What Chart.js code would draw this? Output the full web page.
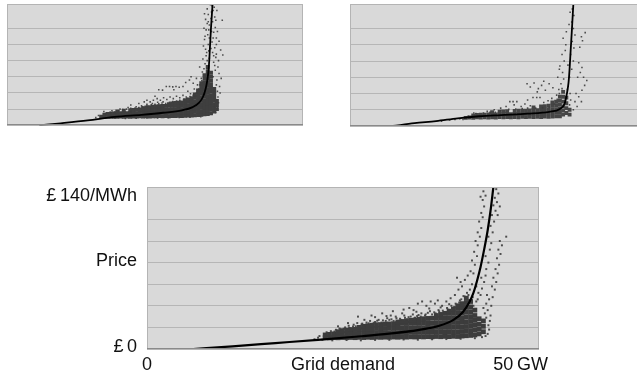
<!DOCTYPE html>
<html>
<head>
<meta charset="utf-8">
<script src="https://cdn.jsdelivr.net/npm/chart.js@4/dist/chart.umd.min.js"></script>
<style>
  html, body { margin: 0; padding: 0; background: #fff; width: 637px; height: 378px; overflow: hidden; }
  .panel { position: absolute; }
  canvas { display: block; }
</style>
</head>
<body>
<div class="panel" style="left:0;top:0;"><canvas id="chartA" width="312" height="130"></canvas></div>
<div class="panel" style="left:343px;top:0;"><canvas id="chartB" width="310" height="130"></canvas></div>
<div class="panel" style="left:0;top:170px;"><canvas id="chartMain" width="637" height="208"></canvas></div>
<script>
// Grid demand (GW) against wholesale price (£/MWh): half-hourly observations
// plus the fitted supply curve, for two earlier periods (small panels) and the main one.

const DEMAND_MAX = 55;   // GW
const PRICE_MAX = 150;   // £/MWh
const PRICE_STEP = 20;

// ---------- panel A (top left) ----------
const curveA = [[6,0],[10,2.5],[15,6],[20,10.5],[25,13],[29,15.5],[32.5,18.5],[34.5,22.5],[35.7,28],[36.4,35],[36.9,45],[37.2,55],[37.5,72],[37.7,95],[37.9,120],[38.2,150]];
const bandA = [
  [17.5,10.5],[18.1,10.3],[18.1,13],[18.7,10.6],[18.7,14],[19.3,10.4],[19.3,14.2],[19.9,10.7],[19.9,14.5],
  [20.5,10.5],[20.5,14.6],[20.5,17],[21.1,10.8],[21.1,14.8],[21.7,10.6],[21.7,14.7],[21.7,18],[22.3,10.9],[22.3,15],
  [22.9,10.7],[22.9,14.9],[22.9,18.5],[23.5,11],[23.5,15.2],[23.5,19],[24.1,10.8],[24.1,15],[24.1,19.2],
  [24.7,11.1],[24.7,15.3],[24.7,19.5],[25.3,10.9],[25.3,15.1],[25.3,19.3],[25.3,21],[25.9,11.2],[25.9,15.4],[25.9,19.6],[25.9,22],
  [26.5,11],[26.5,15.2],[26.5,19.4],[26.5,22.5],[27.1,11.3],[27.1,15.5],[27.1,19.7],[27.1,23],[27.7,11.1],[27.7,15.3],[27.7,19.5],[27.7,23.2],
  [28.3,11.4],[28.3,15.6],[28.3,19.8],[28.3,23.5],[28.9,11.2],[28.9,15.4],[28.9,19.6],[28.9,23.8],[29.5,11.5],[29.5,15.7],[29.5,19.9],[29.5,24],
  [30.1,11.3],[30.1,15.5],[30.1,19.7],[30.1,24],[30.1,26],[30.7,11.6],[30.7,15.8],[30.7,20],[30.7,24.2],[30.7,27],
  [31.3,11.4],[31.3,15.6],[31.3,19.8],[31.3,24],[31.3,27.5],[31.9,11.7],[31.9,16],[31.9,20.2],[31.9,24.4],[31.9,28],
  [32.5,11.5],[32.5,15.8],[32.5,20],[32.5,24.2],[32.5,28.3],[33.1,11.8],[33.1,16],[33.1,20.3],[33.1,24.5],[33.1,28.6],[33.1,31],
  [33.7,12],[33.7,16.2],[33.7,20.5],[33.7,24.8],[33.7,29],[33.7,32],[34.3,12.2],[34.3,16.5],[34.3,20.8],[34.3,25],[34.3,29.2],[34.3,33.5],
  [34.9,12.5],[34.9,16.8],[34.9,21],[34.9,25.3],[34.9,29.6],[34.9,34],[34.9,38],
  [35.5,12.8],[35.5,17],[35.5,21.3],[35.5,25.6],[35.5,30],[35.5,34.4],[35.5,38.8],[35.5,43],
  [36.1,13],[36.1,17.3],[36.1,21.6],[36.1,26],[36.1,30.4],[36.1,34.8],[36.1,39.2],[36.1,43.6],[36.1,48],[36.1,52],
  [36.7,13.5],[36.7,17.8],[36.7,22],[36.7,26.4],[36.7,30.8],[36.7,35.2],[36.7,39.6],[36.7,44],[36.7,48.5],[36.7,53],[36.7,57.5],[36.7,62],
  [37.3,14],[37.3,18.3],[37.3,22.6],[37.3,27],[37.3,31.4],[37.3,35.8],[37.3,40.2],[37.3,44.6],[37.3,49],[37.3,53.4],[37.3,58],[37.3,62.5],[37.3,67],[37.3,72],
  [37.9,15],[37.9,19.4],[37.9,23.8],[37.9,28.2],[37.9,32.6],[37.9,37],[37.9,41.4],[37.9,46],[37.9,50.5],[37.9,55],[37.9,60],[37.9,65],
  [38.5,17],[38.5,21.5],[38.5,26],[38.5,30.5],[38.5,35],[38.5,40],[38.5,45],[39.0,20],[39.0,25],[39.0,30]
];
const dotsA = [
  [36.8,76],[37.2,80],[38.4,78],[38.8,84],[37,86],[38.2,90],[36.9,94],[38.6,96],[37.4,100],[38.1,103],[36.7,106],[38.9,108],
  [37.3,112],[38.4,115],[37,118],[38.7,121],[37.6,124],[38.2,128],[36.9,131],[38.6,134],[37.4,137],[38,140],[37.2,144],[38.5,146],
  [37.8,149],[38.9,88],[39.2,72],[39.4,64],[39,56],[39.5,48],[36.3,66],[36.1,58],[35.8,72],[36.4,82],[38.3,60],[38.7,68],
  [37.6,83],[37.9,95],[38.3,108],[37.5,118],[37.9,132],[38.3,142],[40,130],[39.7,93],[40.1,87],[39.8,58],[39.6,40],
  [29.6,48],[30.2,48],[30.8,47.5],[31.4,48],[32,47],[32.7,48],[28.2,44],[28.9,43.5],[31,44],
  [26.6,29],[27.2,31],[27.9,33],[28.5,31],[29.1,34],[29.7,32],[30.3,35],[30.9,33],[31.5,36],[32.1,34],[32.7,37],[33.3,35],
  [27,27],[28,28.5],[29,29],[33.2,53],[33.9,56],[34.6,52],[35.2,58],[34.2,60],[35.4,50],[34.8,45],[33.6,42],[34.1,39],[35,36],
  [18,17],[19.5,18],[21,20],[22.5,22],[24,23],[25,24],[26,26],[23,17],[20,9],[22,8.5],[24,8.8],[26,9],[28,9.2],[30,9.5],
  [32,9.8],[34,10],[36,10.5],[16.5,9.5],[17,12],[24.5,27],[25.5,29],[26,31],[27.5,36],[23,25],
  [18.5,15],[19.2,16],[20,16.5],[20.8,18],[21.5,19.5],[22.2,20],[23,21],[23.8,21.5],[24.5,22],[25.2,23],[26,24.5],[26.8,25.5],
  [27.5,26],[28.2,26.5],[28.8,27.5],[29.5,27],[30.2,28.5],[30.8,29.5],[31.5,30],[32.1,31],[32.8,32],[33.4,33.5],[34,35.5],
  [34.6,37],[35.2,40],[35.6,45],[35.9,50],[36.2,55],[38.9,50],[39.1,42],[39.2,35],[39.3,28],[39.1,22],[38.8,16],
  [36.6,70],[38.6,74],[37.1,90],[38.9,100],[36.8,110],[39.1,116],[37.2,126],[38.8,130],[36.7,138],[39,142],[37.6,108],[38,116],
  [37.5,92],[38.4,86],[39.3,80],[36.5,98],[39.4,104],[38.1,148],[37.4,128],[36.6,120]
];

// ---------- panel B (top right) ----------
const curveB = [[8,0],[12,3.5],[16,6],[20,9.5],[24,12],[28,13.5],[33,15.2],[37,17.5],[39,21],[39.9,28],[40.3,40],[40.6,53],[40.8,70],[41,93],[41.2,115],[41.5,150]];
const bandB = [
  [21.5,10],[22.2,10.5],[22.9,10.2],[22.9,13],[23.6,10.6],[23.6,13.5],[24.3,10.3],[24.3,13.8],[25.0,10.7],[25.0,14],
  [25.7,10.4],[25.7,14.2],[26.4,10.8],[26.4,14.4],[26.4,17],[27.1,10.5],[27.1,14.3],[27.8,10.9],[27.8,14.6],[27.8,17.5],
  [28.5,10.6],[28.5,14.5],[28.5,18],[29.2,11],[29.2,14.8],[29.2,18.2],[29.9,10.7],[29.9,14.6],[30.6,11.1],[30.6,15],[30.6,18.5],
  [31.3,10.8],[31.3,14.8],[31.3,18.8],[32.0,11.2],[32.0,15.1],[32.0,19],[32.7,10.9],[32.7,15],[32.7,19],
  [33.4,11.3],[33.4,15.3],[33.4,19.3],[34.1,11],[34.1,15.2],[34.1,19.4],[34.1,23],[34.8,11.4],[34.8,15.5],[34.8,19.6],
  [35.5,11.1],[35.5,15.4],[35.5,19.7],[35.5,24],[36.2,11.5],[36.2,15.7],[36.2,20],[36.2,24.5],[36.9,11.2],[36.9,15.6],[36.9,20],[36.9,25],
  [37.6,11.6],[37.6,16],[37.6,20.4],[37.6,25],[37.6,29],[38.3,11.8],[38.3,16.2],[38.3,20.8],[38.3,25.5],[38.3,30],
  [39.0,12],[39.0,16.5],[39.0,21],[39.0,26],[39.0,31],[39.0,36],[39.6,14],[39.6,19],[39.6,24],[39.6,30],[39.6,36],[39.6,42],
  [40.2,16],[40.2,22],[40.2,28],[40.2,35],[40.8,14],[40.8,20]
];
const dotsB = [
  [17,6],[18.5,7.5],[19.5,8],[20.4,9],[21,8],[23,16],[24.7,13.5],[22,12],
  [25.5,18],[26.8,20],[28,22],[29,24],[29.7,30],[30.3,30],[31,30],[30.5,26],[31.8,24],[32.5,27],[33.5,25],[34,35],[34.7,35],
  [35.3,35],[33,32],[36,29],[36.8,31],[37.5,34],
  [32.9,52],[33.5,48],[34.2,53],[35,46],[35.6,50],[36.3,44],[37,52],[37.7,47],[34.8,42],[36,55],
  [38.4,38],[38.8,45],[39.2,52],[38.6,60],[39.5,66],[39,74],[39.8,80],[39.4,88],[40,93],[38.9,70],[39.7,58],[40.1,100],[39.6,108],[40.2,116],
  [40.8,60],[41.2,70],[41.5,80],[41,88],[41.6,96],[41.3,104],[41.8,112],[41.5,120],[41.2,128],[41.6,136],[41.3,144],[41.7,150],
  [40.9,140],[40.7,125],[40.5,75],[40.4,45],
  [42.7,97],[43.2,105],[43.7,115],[43,110],[42.3,60],[42.8,66],[43.1,72],[42.5,78],[43.1,44],[43.6,50],[44,56],[43.4,60],
  [42,40],[42.5,36],[41.8,30],[42.2,24],[41.5,20],[43,30],
  [22.6,12],[23.4,15.5],[24.8,16],[26,16.8],[27,17],[28,19],[29.5,20.5],[30.8,21],[32,21.5],[33,22],[34.5,22],[35.8,22.5],
  [37,23],[38,27],[38.5,33],[38.9,40],[39.4,46],[40.8,26],[41,32],[40.9,40]
];

// ---------- main panel ----------
const curveMain = [[6.5,0],[12,2.5],[18,5.5],[24,8.5],[30,11.8],[34,14.3],[38,17.5],[41,21.5],[43,27],[44.3,34],[45.2,43],[45.8,52],[46.3,63],[46.8,76],[47.3,92],[47.8,110],[48.2,128],[48.6,150]];
const bandMain = [
  [25.0,10.5],[25.0,13],[25.6,10.3],[25.6,13.5],[26.2,10.6],[26.2,14],[26.8,10.4],[26.8,14.2],[26.8,16],
  [27.4,10.6],[27.4,14],[27.4,17],[28.0,10.5],[28.0,14.3],[28.0,17.5],[28.6,10.7],[28.6,14.5],[28.6,18],
  [29.2,10.5],[29.2,14.4],[29.2,18.2],[29.8,10.8],[29.8,14.6],[29.8,18.5],[29.8,20],
  [30.4,10.6],[30.4,14.5],[30.4,18.4],[30.4,21],[31.0,10.9],[31.0,14.8],[31.0,18.7],[31.0,21.5],
  [31.6,10.7],[31.6,14.6],[31.6,18.5],[31.6,22],[32.2,11],[32.2,15],[32.2,19],[32.2,22.5],
  [32.8,10.8],[32.8,14.8],[32.8,18.8],[32.8,22.6],[33.4,11],[33.4,15],[33.4,19],[33.4,23],
  [34.0,10.9],[34.0,15],[34.0,19.2],[34.0,23.2],[34.6,11.1],[34.6,15.2],[34.6,19.3],[34.6,23.4],
  [35.2,10.9],[35.2,15],[35.2,19.2],[35.2,23.5],[35.2,25],[35.8,11.2],[35.8,15.3],[35.8,19.5],[35.8,23.8],[35.8,25.5],
  [36.4,11],[36.4,15.2],[36.4,19.4],[36.4,23.6],[36.4,26],[37.0,11.3],[37.0,15.5],[37.0,19.7],[37.0,24],[37.0,26.5],
  [37.6,11.1],[37.6,15.3],[37.6,19.5],[37.6,23.8],[37.6,27],[38.2,11.4],[38.2,15.6],[38.2,19.8],[38.2,24],[38.2,27.5],
  [38.8,11.2],[38.8,15.4],[38.8,19.6],[38.8,23.9],[38.8,28],[39.4,11.5],[39.4,15.7],[39.4,20],[39.4,24.2],[39.4,28.3],
  [40.0,11.3],[40.0,15.5],[40.0,19.8],[40.0,24],[40.0,28.5],[40.6,11.6],[40.6,15.8],[40.6,20],[40.6,24.3],[40.6,28.6],[40.6,31],
  [41.2,11.4],[41.2,15.6],[41.2,19.9],[41.2,24.2],[41.2,28.5],[41.2,32],[41.8,11.7],[41.8,16],[41.8,20.2],[41.8,24.5],[41.8,28.8],[41.8,33],
  [42.4,11.5],[42.4,15.8],[42.4,20],[42.4,24.4],[42.4,28.7],[42.4,33],[42.4,35],
  [43.0,11.8],[43.0,16],[43.0,20.3],[43.0,24.6],[43.0,29],[43.0,33.3],[43.0,37],
  [43.6,11.6],[43.6,15.9],[43.6,20.2],[43.6,24.5],[43.6,28.8],[43.6,33.2],[43.6,37.5],[43.6,40],
  [44.2,12],[44.2,16.2],[44.2,20.5],[44.2,24.8],[44.2,29],[44.2,33.5],[44.2,38],[44.2,42],
  [44.8,12.3],[44.8,16.5],[44.8,20.8],[44.8,25],[44.8,29.5],[44.8,34],[44.8,38.5],[44.8,43],[44.8,47],
  [45.4,12.6],[45.4,17],[45.4,21.3],[45.4,25.5],[45.4,30],[45.4,34.5],[45.4,39],[45.4,44],
  [46.0,13],[46.0,17.5],[46.0,22],[46.0,26.5],[46.0,31],[46.0,36],[46.6,14],[46.6,18.5],[46.6,23],[46.6,28],
  [47.2,16],[47.2,21],[47.2,26]
];
const dotsMain = [
  [23.5,9],[24,10.5],[24.2,12],[24.6,8.5],[25.2,15.5],[25.8,16.5],[26.5,17.8],[27,19],[27.8,20],[28.3,21.5],[29,22.5],[29.5,24],
  [30.1,22.8],[30.8,24.5],[31.3,26],[32,25],[32.5,27],[33.1,26.5],[33.7,28.5],[34.3,27.5],[34.9,30],[35.5,28],[36.1,31],[36.7,29.5],
  [37.3,32],[37.9,30.5],[38.5,33],[39.1,32],[39.7,35],[40.3,34],[40.9,36],[41.5,35.5],[42.1,38],[42.7,40],[43.3,42],[43.9,45],[44.4,49],[44.9,52],
  [29.6,30],[31.5,31],[33,33],[34.5,35],[36,36.5],[36.8,38],[37.4,36],[38,42],[38.6,44],[39.2,40],[39.8,44],[40.4,42],[40.8,45],
  [41.4,40],[42,44],[42.6,47],[43.2,50],[43.7,55],[44.2,58],[44,62],[43.5,66],[44.6,64],[45,68],[45.4,72],[45.6,60],
  [26,8],[28,8.3],[30,8],[32,8.4],[34,8.5],[36,8.8],[38,8.6],[40,9],[42,9.2],[44,9.5],[46,10],[47,11],
  [47.5,12],[47.8,14],[48,18],[47.9,22],[47.6,29],[48.1,26],[47.4,33],[47.8,36],[48.2,31],[47.2,38],[47.6,42],[48.3,40],[48,46],
  [47.7,50],[48.5,48],[48.8,55],[48.4,58],[49,62],[48.6,66],[49.2,70],[48.9,74],[49.4,78],[49.1,84],[49.6,88],[49.3,92],[49.8,96],
  [50.4,104],[49.5,100],
  [45.8,70],[46,78],[45.6,82],[46.3,86],[45.9,90],[46.4,96],[46.1,100],[46.7,104],[46.4,108],[46.9,112],[46.6,118],[47.1,122],
  [46.9,126],[47.3,132],[47.1,138],[47.5,142],[47.2,146],[46.8,141],
  [47.6,74],[47.9,80],[47.5,86],[48.1,92],[48.3,98],[47.9,104],[48.5,108],[48.2,114],[48.7,118],[48.4,124],[48.9,128],[48.6,133],
  [49.1,136],[48.8,140],[49.3,144],[49,148],[49.5,132],[49.2,124],
  [46.5,52],[47,56],[46.2,58],[47.3,62],[46.9,66],[47.5,68],[46.4,46],[46.8,50],[45.8,40],[46.2,44],
  [25.5,14.8],[26.3,16.2],[27.1,18],[27.6,18.8],[28.4,19.5],[28.9,20.8],[29.3,21],[30.2,23.5],[30.6,22],[31.1,23.8],[31.8,24.3],
  [32.3,26.2],[32.9,24.5],[33.5,26],[34,27],[34.6,26],[35,28.5],[35.6,27],[36.2,29],[36.5,27.5],[37,30],[37.6,29],[38.1,31.5],
  [38.4,30],[39,31],[39.4,33.5],[40,32],[40.5,33],[41,34.8],[41.7,34],[42.2,36.5],[42.8,38],[43.1,39],[43.8,43],[44.1,46],
  [44.6,48.5],[45.1,50],[45.3,55],[45.7,48],[34.2,31],[35.8,33],[37.8,34.5],[39.6,37.5],[41.2,38.5],[42.4,41.5],[30.5,27],
  [32,29.5],[33.6,30.5],[28.2,24],[26.8,21]
];

// axis wording for the main panel
const priceLabelValues = [0, 80, 140];
const priceLabels = ['£\u20090', 'Price', '£\u2009140/MWh'];
const demandLabelValues = [0, 50];
const demandLabels = ['0', '50\u2009GW'];
const demandTitle = 'Grid demand';

const FONT = '18px "Liberation Sans", Arial, sans-serif';
const toXY = pts => pts.map(([x, y]) => ({ x, y }));

// grey plotting area with a thin frame
const plotFrame = {
  id: 'plotFrame',
  beforeDraw(chart) {
    const { ctx, chartArea: a } = chart;
    ctx.save();
    ctx.fillStyle = '#d9d9d9';
    ctx.fillRect(a.left, a.top, a.right - a.left, a.bottom - a.top);
    ctx.restore();
  },
  afterDatasetsDraw(chart) {
    const { ctx, chartArea: a } = chart;
    ctx.save();
    ctx.lineWidth = 1;
    ctx.strokeStyle = '#b4b4b4';
    const l = Math.round(a.left) + 0.5, r = Math.round(a.right) - 0.5;
    const t = Math.round(a.top) + 0.5, b = Math.round(a.bottom) - 0.5;
    ctx.beginPath();
    ctx.moveTo(l, b); ctx.lineTo(l, t); ctx.lineTo(r, t); ctx.lineTo(r, b);
    ctx.stroke();
    ctx.strokeStyle = '#8a8a8a';
    ctx.beginPath();
    ctx.moveTo(l - 0.5, b); ctx.lineTo(r + 0.5, b);
    ctx.stroke();
    ctx.restore();
  }
};

// text around the main panel, placed through its scales
const axisWording = {
  id: 'axisWording',
  afterDraw(chart) {
    const { ctx, chartArea: a, scales } = chart;
    ctx.save();
    ctx.font = FONT;
    ctx.fillStyle = '#111';
    ctx.textBaseline = 'middle';
    ctx.textAlign = 'right';
    priceLabels.forEach((t, i) => {
      ctx.fillText(t, a.left - 10, scales.y.getPixelForValue(priceLabelValues[i]) - 2);
    });
    const ty = a.bottom + 16;
    ctx.textAlign = 'left';
    demandLabels.forEach((t, i) => {
      const num = t.split('\u2009')[0];
      const w = ctx.measureText(num).width;
      ctx.fillText(t, scales.x.getPixelForValue(demandLabelValues[i]) - w / 2, ty);
    });
    ctx.textAlign = 'center';
    ctx.fillText(demandTitle, (a.left + a.right) / 2, ty);
    ctx.restore();
  }
};

function buildChart(id, curve, band, dots, look) {
  return new Chart(document.getElementById(id), {
    type: 'scatter',
    data: {
      datasets: [
        {
          data: toXY(curve), showLine: true, borderColor: '#000', borderWidth: look.line,
          pointRadius: 0, cubicInterpolationMode: 'monotone', fill: false
        },
        {
          data: toXY(dots), pointStyle: 'rect', pointRadius: look.dot,
          backgroundColor: 'rgba(60,60,60,0.9)', borderWidth: 0
        },
        {
          data: toXY(band), pointStyle: 'rect', pointRadius: look.band,
          backgroundColor: look.bandColor, borderWidth: 0
        }
      ]
    },
    options: {
      responsive: false,
      animation: false,
      devicePixelRatio: 1,
      events: [],
      layout: { padding: look.padding },
      plugins: { legend: { display: false }, tooltip: { enabled: false } },
      scales: {
        x: {
          type: 'linear', min: 0, max: DEMAND_MAX,
          grid: { display: false, drawTicks: false },
          border: { display: false },
          ticks: { display: false }
        },
        y: {
          type: 'linear', min: 0, max: PRICE_MAX,
          grid: { color: '#b6b6b6', lineWidth: 1, drawTicks: false },
          border: { display: false },
          ticks: { display: false, stepSize: PRICE_STEP }
        }
      }
    },
    plugins: look.labels ? [plotFrame, axisWording] : [plotFrame]
  });
}

buildChart('chartA', curveA, bandA, dotsA, {
  line: 1.8, band: 2.8, dot: 1.1, bandColor: '#3f3f3f',
  padding: { left: 7, top: 3.5, right: 9, bottom: 4.7 }
});
buildChart('chartB', curveB, bandB, dotsB, {
  line: 1.8, band: 2.75, dot: 1.1, bandColor: '#454545',
  padding: { left: 7, top: 4.2, right: 7, bottom: 4 }
});
buildChart('chartMain', curveMain, bandMain, dotsMain, {
  line: 2.2, band: 3.4, dot: 1.4, bandColor: '#3c3c3c', labels: true,
  padding: { left: 147, top: 17, right: 98, bottom: 29 }
});
</script>
</body>
</html>
